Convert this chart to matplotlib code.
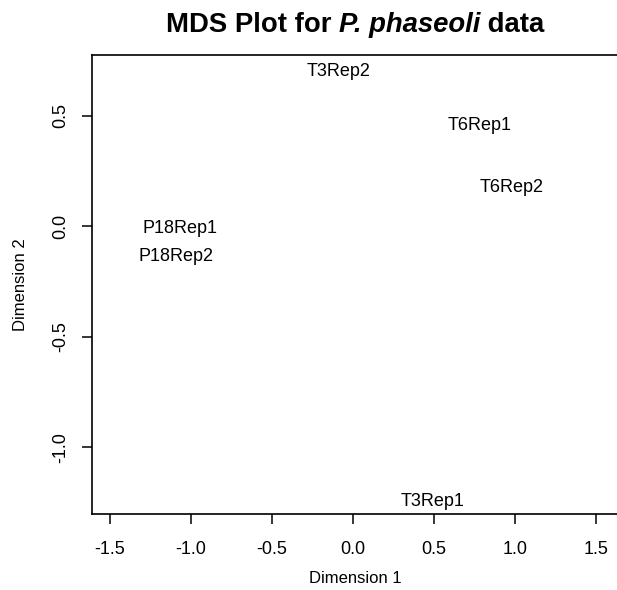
import matplotlib
matplotlib.use('Agg')
import matplotlib.pyplot as plt

plt.rcParams['font.family'] = 'Liberation Sans'
plt.rcParams['axes.unicode_minus'] = False

# MDS coordinates
samples = ['T3Rep2', 'T6Rep1', 'T6Rep2', 'P18Rep1', 'P18Rep2', 'T3Rep1']
dim1 = [-0.093, 0.778, 0.978, -1.070, -1.091, 0.492]
dim2 = [0.700, 0.455, 0.177, -0.008, -0.137, -1.243]

xticks = [-1.5, -1.0, -0.5, 0.0, 0.5, 1.0, 1.5]
yticks = [-1.0, -0.5, 0.0, 0.5]

fig = plt.figure(figsize=(6.17, 5.90), dpi=100)
ax = fig.add_axes([0.1486, 0.1288, 0.855, 0.7785])
ax.set_xlim(-1.613, 1.641)
ax.set_ylim(-1.301, 0.777)

for s, x, y in zip(samples, dim1, dim2):
    ax.text(x, y, s, ha='center', va='center', fontsize=13)

ax.set_xticks(xticks)
ax.set_xticklabels(['%.1f' % v for v in xticks])
ax.set_yticks(yticks)
ax.set_yticklabels(['%.1f' % v for v in yticks], rotation=90, va='center')
ax.tick_params(length=7.5, width=1.1, labelsize=13)
ax.tick_params(axis='x', pad=12)
ax.tick_params(axis='y', pad=8.5)
for sp in ax.spines.values():
    sp.set_linewidth(1.2)

ax.set_xlabel('Dimension 1', fontsize=12, labelpad=9.5)
ax.set_ylabel('Dimension 2', fontsize=12, labelpad=17.5)

# title with italic species name, pieces laid out side by side
pieces = [('MDS Plot for ', 'normal'), ('P. phaseoli', 'italic'), (' data', 'normal')]
renderer = fig.canvas.get_renderer()
texts = []
for s, st in pieces:
    t = fig.text(0, 0.957, s, fontsize=19.8, fontweight='bold', style=st,
                 ha='left', va='center')
    texts.append(t)
widths = [t.get_window_extent(renderer).width for t in texts]
total = sum(widths)
cx = 355.0
x0 = cx - total / 2
for t, w in zip(texts, widths):
    t.set_x(x0 / fig.bbox.width)
    x0 += w

fig.savefig('out.png', dpi=100)
